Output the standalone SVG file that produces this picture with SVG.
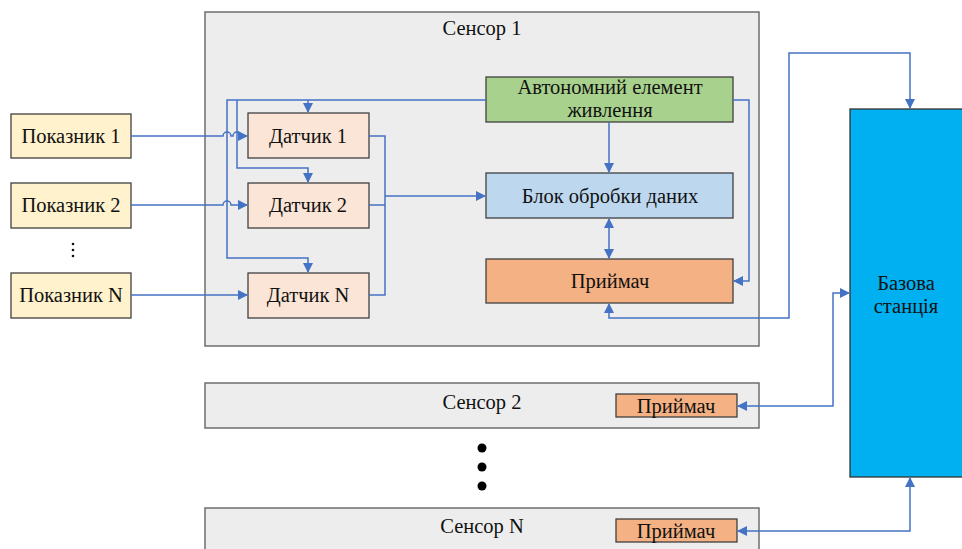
<svg xmlns="http://www.w3.org/2000/svg" width="962" height="549" viewBox="0 0 962 549">
<defs>
<marker id="arr" markerWidth="10" markerHeight="10" refX="9" refY="5" orient="auto-start-reverse" markerUnits="userSpaceOnUse">
<path d="M0,0 L10,5 L0,10 Z" fill="#4472c4"/>
</marker>
<style>
.sensor{fill:#ededed;stroke:#6e6e6e;stroke-width:1.5}
.box{stroke:#404040;stroke-width:1.3}
.t{font-family:'Liberation Serif','Times New Roman',serif;font-size:20.5px;fill:#111;text-anchor:middle}
.c{fill:none;stroke:#4472c4;stroke-width:1.5}
</style>
</defs>
<rect width="962" height="549" fill="#fff"/>
<g id="sensor1"><rect class="sensor" x="205" y="12" width="554" height="334"/><text class="t" x="482" y="35">Сенсор 1</text></g>
<g id="sensor2"><rect class="sensor" x="205" y="383" width="554" height="45"/><text class="t" x="482" y="409">Сенсор 2</text></g>
<g id="sensorN"><rect class="sensor" x="205" y="508" width="554" height="50"/><text class="t" x="482" y="533">Сенсор N</text></g>
<g id="pok1"><rect class="box" x="11" y="114" width="120" height="44" fill="#fff2cc"/><text class="t" x="71" y="143">Показник 1</text></g>
<g id="pok2"><rect class="box" x="11" y="183" width="120" height="45" fill="#fff2cc"/><text class="t" x="71" y="212">Показник 2</text></g>
<g id="pokN"><rect class="box" x="11" y="273" width="120" height="45" fill="#fff2cc"/><text class="t" x="71" y="302">Показник N</text></g>
<g id="vdots"><circle cx="73" cy="244" r="1.3" fill="#111"/><circle cx="73" cy="250" r="1.3" fill="#111"/><circle cx="73" cy="256" r="1.3" fill="#111"/></g>
<g id="dat1"><rect class="box" x="248" y="113" width="121" height="45" fill="#fbe5d6"/><text class="t" x="308" y="143">Датчик 1</text></g>
<g id="dat2"><rect class="box" x="248" y="183" width="121" height="45" fill="#fbe5d6"/><text class="t" x="308" y="212">Датчик 2</text></g>
<g id="datN"><rect class="box" x="248" y="273" width="121" height="45" fill="#fbe5d6"/><text class="t" x="308" y="302">Датчик N</text></g>
<g id="power"><rect class="box" x="486" y="77" width="247" height="45" fill="#a9d18e"/><text class="t" x="610" y="94">Автономний елемент</text><text class="t" x="610" y="117">живлення</text></g>
<g id="proc"><rect class="box" x="486" y="173" width="247" height="45" fill="#bdd7ee"/><text class="t" x="610" y="203">Блок обробки даних</text></g>
<g id="recv1"><rect class="box" x="486" y="259" width="247" height="44" fill="#f4b183"/><text class="t" x="610" y="288">Приймач</text></g>
<g id="recv2"><rect class="box" x="616" y="394" width="121" height="23" fill="#f4b183"/><text class="t" x="676" y="413">Приймач</text></g>
<g id="recvN"><rect class="box" x="616" y="519" width="121" height="23" fill="#f4b183"/><text class="t" x="676" y="538">Приймач</text></g>
<g id="base"><rect x="850" y="109" width="120" height="368" fill="#00b0f0" stroke="#333" stroke-width="1.3"/><text class="t" x="906" y="290">Базова</text><text class="t" x="906" y="313">станція</text></g>
<g id="bdots"><circle cx="482" cy="448" r="4.5" fill="#000"/><circle cx="482" cy="467" r="4.5" fill="#000"/><circle cx="482" cy="486" r="4.5" fill="#000"/></g>
<g id="connectors">
<path class="c" d="M486,100 H227 V258 H308 V272" marker-end="url(#arr)"/>
<path class="c" d="M237,100 V168 H308 V182" marker-end="url(#arr)"/>
<path class="c" d="M308,100 V112" marker-end="url(#arr)"/>
<path class="c" d="M131,136 H223 A4,4 0 0 1 231,136 H233 A4,4 0 0 1 241,136 H247" marker-end="url(#arr)"/>
<path class="c" d="M131,205 H223 A4,4 0 0 1 231,205 H247" marker-end="url(#arr)"/>
<path class="c" d="M131,295 H247" marker-end="url(#arr)"/>
<path class="c" d="M369,136 H385 V295 H369 M369,205 H385"/>
<path class="c" d="M385,196 H485" marker-end="url(#arr)"/>
<path class="c" d="M609,122 V172" marker-end="url(#arr)"/>
<path class="c" d="M609,219 V258" marker-start="url(#arr)" marker-end="url(#arr)"/>
<path class="c" d="M733,100 H749 V281 H734" marker-end="url(#arr)"/>
<path class="c" d="M609,304 V318 H789 V53 H910 V108" marker-start="url(#arr)" marker-end="url(#arr)"/>
<path class="c" d="M738,406 H833 V293 H849" marker-start="url(#arr)" marker-end="url(#arr)"/>
<path class="c" d="M738,531 H910 V478" marker-start="url(#arr)" marker-end="url(#arr)"/>
</g>
</svg>
